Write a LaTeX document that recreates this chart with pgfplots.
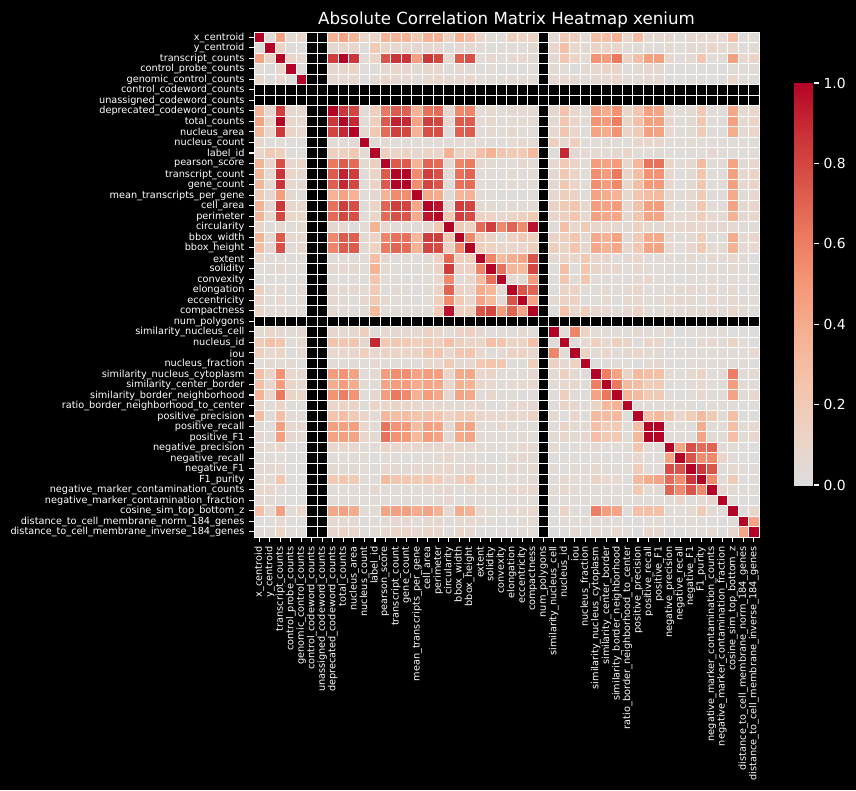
\documentclass[border=0pt]{standalone}
\usepackage{fontspec}
\setmainfont{DejaVu Sans}
\usepackage{pgfplots}
\usepackage{pgfplotstable}
\pgfplotsset{compat=1.18}
\def\names{x\_centroid,y\_centroid,transcript\_counts,control\_probe\_counts,genomic\_control\_counts,control\_codeword\_counts,unassigned\_codeword\_counts,deprecated\_codeword\_counts,total\_counts,nucleus\_area,nucleus\_count,label\_id,pearson\_score,transcript\_count,gene\_count,mean\_transcripts\_per\_gene,cell\_area,perimeter,circularity,bbox\_width,bbox\_height,extent,solidity,convexity,elongation,eccentricity,compactness,num\_polygons,similarity\_nucleus\_cell,nucleus\_id,iou,nucleus\_fraction,similarity\_nucleus\_cytoplasm,similarity\_center\_border,similarity\_border\_neighborhood,ratio\_border\_neighborhood\_to\_center,positive\_precision,positive\_recall,positive\_F1,negative\_precision,negative\_recall,negative\_F1,F1\_purity,negative\_marker\_contamination\_counts,negative\_marker\_contamination\_fraction,cosine\_sim\_top\_bottom\_z,distance\_to\_cell\_membrane\_norm\_184\_genes,distance\_to\_cell\_membrane\_inverse\_184\_genes}
\pgfplotstableread[header=false]{
100 3 44 4 10 nan nan 37 44 34 10 10 36 35 35 20 37 36 12 36 30 10 3 2 16 12 12 nan 5 20 16 3 28 28 37 10 30 5 7 7 3 7 8 8 6 28 2 5
3 100 12 2 2 nan nan 7 10 9 2 20 10 8 8 7 7 8 2 6 7 3 2 3 3 3 5 nan 10 28 8 5 12 10 10 3 3 3 3 6 3 6 5 10 5 8 2 5
44 12 100 10 8 nan nan 83 100 85 3 12 75 87 87 46 85 80 6 73 77 3 7 2 6 8 5 nan 7 24 12 4 52 48 62 12 28 46 46 10 3 6 24 3 4 46 8 12
4 2 10 100 2 nan nan 7 10 12 2 2 7 10 8 5 9 10 2 8 3 1 4 1 1 2 3 nan 5 3 1 6 8 11 11 2 4 7 7 1 1 1 2 2 1 3 2 4
10 2 8 2 100 nan nan 7 8 8 1 4 11 7 7 3 8 10 6 7 9 4 3 3 6 4 4 nan 6 8 6 3 7 8 10 3 5 7 7 1 2 2 2 1 2 10 2 3
nan nan nan nan nan nan nan nan nan nan nan nan nan nan nan nan nan nan nan nan nan nan nan nan nan nan nan nan nan nan nan nan nan nan nan nan nan nan nan nan nan nan nan nan nan nan nan nan
nan nan nan nan nan nan nan nan nan nan nan nan nan nan nan nan nan nan nan nan nan nan nan nan nan nan nan nan nan nan nan nan nan nan nan nan nan nan nan nan nan nan nan nan nan nan nan nan
37 8 83 7 7 nan nan 100 85 81 4 16 62 73 71 37 65 67 7 56 58 4 6 3 7 6 5 nan 9 26 8 3 48 40 52 10 24 46 44 8 3 5 22 3 3 42 6 9
44 10 100 10 8 nan nan 85 100 90 3 16 73 92 90 44 83 80 6 73 73 4 8 2 5 5 5 nan 6 24 10 3 52 48 60 12 28 46 46 10 3 5 24 3 3 46 6 12
34 9 85 12 8 nan nan 81 90 100 5 22 67 83 80 37 77 77 2 71 73 3 6 3 7 3 2 nan 8 24 10 2 44 40 52 12 20 46 44 8 3 5 20 3 3 40 5 10
10 1 3 2 1 nan nan 4 3 5 100 4 5 3 3 3 3 4 4 5 5 4 2 2 4 7 5 nan 16 7 17 3 3 5 3 2 9 9 9 3 4 4 3 3 3 3 3 2
10 20 16 2 3 nan nan 16 16 22 4 100 16 12 13 7 12 10 36 13 14 28 36 24 20 20 32 nan 2 90 7 6 6 3 7 11 4 4 5 3 2 1 3 7 3 4 2 4
36 10 77 8 11 nan nan 62 73 67 5 16 100 73 73 36 70 67 6 58 62 7 5 3 3 7 4 nan 8 22 13 3 48 44 48 10 34 64 65 12 4 8 32 3 4 44 5 8
35 8 87 10 7 nan nan 73 92 83 3 12 73 100 100 55 83 77 4 65 70 3 3 2 5 3 4 nan 7 22 12 3 54 48 62 11 29 52 52 9 2 5 24 3 3 46 7 12
35 8 87 8 7 nan nan 71 90 80 3 13 73 100 100 54 81 75 4 65 67 3 3 2 5 3 4 nan 7 22 11 3 54 48 56 10 29 50 50 9 2 5 24 3 4 46 7 11
20 7 46 5 3 nan nan 37 44 37 3 7 36 55 54 100 42 40 3 34 37 2 3 2 2 2 3 nan 7 17 13 2 44 40 37 8 24 30 32 9 4 6 20 3 3 41 4 8
37 7 85 9 8 nan nan 65 83 77 3 12 70 83 81 42 100 96 6 83 81 5 5 3 5 4 4 nan 13 20 24 9 48 44 48 8 26 46 48 8 2 6 22 4 3 44 6 10
36 8 80 10 10 nan nan 67 80 77 4 10 67 77 75 40 96 100 22 83 79 14 12 8 12 16 20 nan 10 16 24 8 46 42 42 7 24 44 44 8 5 8 18 6 5 37 7 10
12 2 6 2 6 nan nan 7 6 2 4 36 6 4 4 3 6 22 100 20 14 68 83 56 70 55 96 nan 3 28 8 20 10 10 7 5 14 6 5 9 8 9 9 7 7 6 3 2
36 6 73 8 7 nan nan 56 73 71 5 13 58 65 65 34 83 83 20 100 56 18 13 3 14 20 16 nan 13 16 24 7 41 37 44 5 20 41 41 8 3 5 18 2 2 40 6 10
30 7 77 3 9 nan nan 58 73 73 5 14 62 70 67 37 81 79 14 56 100 17 14 10 10 10 16 nan 16 12 24 7 42 37 42 8 22 44 44 8 3 8 22 5 5 37 6 8
10 3 3 1 4 nan nan 4 4 3 4 28 7 3 3 2 5 14 68 18 17 100 58 32 40 44 75 nan 7 12 8 22 8 9 2 7 10 3 4 5 2 6 3 6 4 8 5 1
3 2 7 4 3 nan nan 6 8 6 2 36 5 3 3 3 5 12 83 13 14 58 100 65 34 32 80 nan 2 28 2 24 11 8 9 2 8 4 3 3 2 5 3 5 3 5 3 1
2 3 2 1 3 nan nan 3 2 3 2 24 3 2 2 2 3 8 56 3 10 32 65 100 6 5 48 nan 3 24 5 24 4 3 3 2 6 9 4 2 1 4 3 5 3 4 3 2
16 3 6 1 6 nan nan 7 5 7 4 20 3 5 5 2 5 12 70 14 10 40 34 6 100 75 70 nan 2 12 13 3 3 6 3 6 10 3 3 5 5 7 4 6 3 6 1 3
12 3 8 2 4 nan nan 6 5 3 7 20 7 3 3 2 4 16 55 20 10 44 32 5 75 100 44 nan 6 13 14 2 3 6 1 8 8 3 5 8 7 5 3 8 3 6 5 4
12 5 5 3 4 nan nan 5 5 2 5 32 4 4 4 3 4 20 96 16 16 75 80 48 70 44 100 nan 2 27 8 17 7 8 3 7 13 3 3 6 5 6 5 8 3 8 5 2
nan nan nan nan nan nan nan nan nan nan nan nan nan nan nan nan nan nan nan nan nan nan nan nan nan nan nan nan nan nan nan nan nan nan nan nan nan nan nan nan nan nan nan nan nan nan nan nan
5 10 7 5 6 nan nan 9 6 8 16 2 8 7 7 7 13 10 3 13 16 7 2 3 2 6 2 nan 100 3 58 14 4 4 3 3 6 3 4 6 1 4 3 4 3 1 2 1
20 28 24 3 8 nan nan 26 24 24 7 90 22 22 22 17 20 16 28 16 12 12 28 24 12 13 27 nan 3 100 3 6 16 8 16 11 1 11 9 1 3 1 6 8 3 12 4 2
16 8 12 1 6 nan nan 8 10 10 17 7 13 12 11 13 24 24 8 24 24 8 2 5 13 14 8 nan 58 3 100 14 5 9 3 7 10 5 5 2 3 4 4 4 4 3 4 6
3 5 4 6 3 nan nan 3 3 2 3 6 3 3 3 2 9 8 20 7 7 22 24 24 3 2 17 nan 14 6 14 100 2 2 3 3 1 5 7 4 1 4 4 4 3 2 5 1
28 12 52 8 7 nan nan 48 52 44 3 6 48 54 54 44 48 46 10 41 42 8 11 4 3 3 7 nan 4 16 5 2 100 60 44 12 32 28 28 6 3 6 13 3 4 60 3 6
28 10 48 11 8 nan nan 40 48 40 5 3 44 48 48 40 44 42 10 37 37 9 8 3 6 6 8 nan 4 8 9 2 60 100 63 32 30 18 20 3 2 4 8 4 3 48 5 3
37 10 62 11 10 nan nan 52 60 52 3 7 48 62 56 37 48 42 7 44 42 2 9 3 3 1 3 nan 3 16 3 3 44 63 100 37 32 20 20 3 2 3 8 3 3 44 3 8
10 3 12 2 3 nan nan 10 12 12 2 11 10 11 10 8 8 7 5 5 8 7 2 2 6 8 7 nan 3 11 7 3 12 32 37 100 3 3 3 3 3 3 1 3 3 3 1 3
30 3 28 4 5 nan nan 24 28 20 9 4 34 29 29 24 26 24 14 20 22 10 8 6 10 8 13 nan 6 1 10 1 32 30 32 3 100 28 32 24 9 18 32 20 3 28 1 1
5 3 46 7 7 nan nan 46 46 46 9 4 64 52 50 30 46 44 6 41 44 3 4 9 3 3 3 nan 3 11 5 5 28 18 20 3 28 100 100 4 3 2 40 4 4 28 4 8
7 3 46 7 7 nan nan 44 46 44 9 5 65 52 50 32 48 44 5 41 44 4 3 4 3 5 3 nan 4 9 5 7 28 20 20 3 32 100 100 4 3 2 44 5 3 28 4 8
7 6 10 1 1 nan nan 8 10 8 3 3 12 9 9 9 8 8 9 8 8 5 3 2 5 8 6 nan 6 1 2 4 6 3 3 3 24 4 4 100 44 77 67 70 3 4 2 2
3 3 3 1 2 nan nan 3 3 3 4 2 4 2 2 4 2 5 8 3 3 2 2 1 5 7 5 nan 1 3 3 1 3 2 2 3 9 3 3 44 100 75 55 56 10 2 3 1
7 6 6 1 2 nan nan 5 5 5 4 1 8 5 5 6 6 8 9 5 8 6 5 4 7 5 6 nan 4 1 4 4 6 4 3 3 18 2 2 77 75 100 85 75 2 6 4 2
8 5 24 2 2 nan nan 22 24 20 3 3 32 24 24 20 22 18 9 18 22 3 3 3 4 3 5 nan 3 6 4 4 13 8 8 1 32 40 44 67 55 85 100 56 4 20 2 3
8 10 3 2 1 nan nan 3 3 3 3 7 3 3 3 3 4 6 7 2 5 6 5 5 6 8 8 nan 4 8 4 4 3 4 3 3 20 4 5 70 56 75 56 100 7 5 2 5
6 5 4 1 2 nan nan 3 3 3 3 3 4 3 4 3 3 5 7 2 5 4 3 3 3 3 3 nan 3 3 4 3 4 3 3 3 3 4 3 3 10 2 4 7 100 3 1 1
28 8 46 3 10 nan nan 42 46 40 3 4 44 46 46 41 44 37 6 40 37 8 5 4 6 6 8 nan 1 12 3 2 60 48 44 3 28 28 28 4 2 6 20 5 3 100 2 9
2 2 8 2 2 nan nan 6 6 5 3 2 5 7 7 4 6 7 3 6 6 5 3 3 1 5 5 nan 2 4 4 5 3 5 3 1 1 4 4 2 3 4 2 2 1 2 100 44
5 5 12 4 3 nan nan 9 12 10 2 4 8 12 11 8 10 10 2 10 8 1 1 2 3 4 2 nan 1 2 6 1 6 3 8 3 1 8 8 2 1 2 3 5 1 9 44 100
}\corrmat
\pgfplotsset{colormap={cw}{rgb255=(221,221,221) rgb255=(236,211,197) rgb255=(244,196,172) rgb255=(245,177,147) rgb255=(244,152,119) rgb255=(235,120,95) rgb255=(218,85,73) rgb255=(201,49,54) rgb255=(180,4,38)}}
\begin{document}
\begin{tikzpicture}
\fill[black] (0,0) rectangle (642pt,592.5pt);
\begin{axis}[
  at={(190.5pt,189.75pt)}, anchor=south west,
  scale only axis, width=378.75pt, height=378.75pt,
  xmin=-0.5, xmax=47.5, ymin=-0.5, ymax=47.5, y dir=reverse,
  axis line style={draw=none},
  colormap name=cw,
  point meta min=0, point meta max=100,
  xtick={0,...,47}, ytick={0,...,47},
  xticklabels/.expand once=\names,
  yticklabels/.expand once=\names,
  xtick pos=bottom, ytick pos=left,
  tick align=outside,
  major tick length=3.65pt,
  tick style={white, line width=0.8pt},
  minor tick length=0pt,
  minor xtick={-0.5,0.5,...,47.5}, minor ytick={-0.5,0.5,...,47.5},
  xminorgrids=true, yminorgrids=true,
  minor grid style={white, line width=0.52pt},
  tick label style={white, font=\fontsize{7.3}{8}\selectfont},
  xticklabel style={rotate=90, anchor=east},
  yticklabel style={anchor=east, yshift=-0.4pt},
  title={Absolute Correlation Matrix Heatmap xenium},
  title style={white, font=\fontsize{12.5}{15}\selectfont, yshift=-6.5pt},
  colorbar,
  colorbar style={
    at={(1.0693,0.899)}, anchor=north west,
    width=15pt, height=301.5pt,
    ytick={0,20,40,60,80,100},
    yticklabels={0.0,0.2,0.4,0.6,0.8,1.0},
    axis line style={draw=none},
    tick style={white, line width=0.8pt},
    major tick length=3.65pt,
    ytick pos=right, tick align=outside,
    yticklabel style={white, font=\fontsize{10.4}{12}\selectfont, anchor=west},
  },
]
\pgfplotsinvokeforeach{0,1,2,3,4,7,8,9,10,11,12,13,14,15,16,17,18,19,20,21,22,23,24,25,26,28,29,30,31,32,33,34,35,36,37,38,39,40,41,42,43,44,45,46,47}{
  \addplot[scatter, only marks, mark=square*, mark size=3.945pt, line width=0.52pt,
    scatter/use mapped color={draw=white, fill=mapped color},
    point meta=explicit,
    skip coords between index={5}{7}, skip coords between index={27}{28}]
    table[x expr=#1, y expr=\coordindex, meta index=#1] {\corrmat};
}
\end{axis}
\end{tikzpicture}
\end{document}
